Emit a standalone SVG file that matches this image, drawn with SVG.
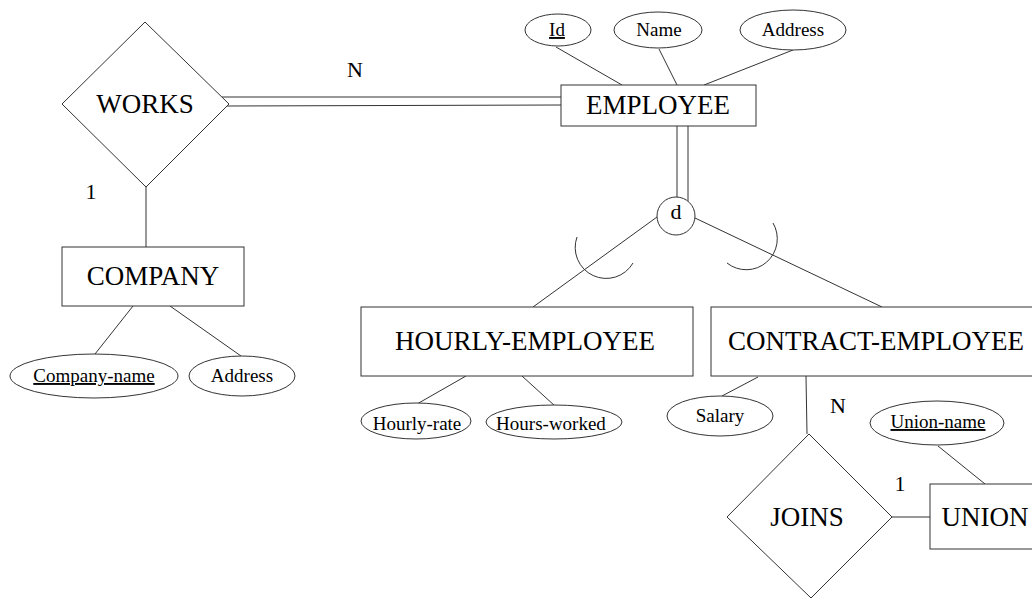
<svg xmlns="http://www.w3.org/2000/svg" width="1032" height="599" viewBox="0 0 1032 599">
  <style>
    .shape { fill: #ffffff; stroke: #333333; stroke-width: 1; }
    .edge { fill: none; stroke: #333333; stroke-width: 1; }
    .big { font-family: "Liberation Serif", "Times New Roman", serif; font-size: 27px; fill: #000000; text-anchor: middle; }
    .small { font-family: "Liberation Serif", "Times New Roman", serif; font-size: 19px; fill: #000000; text-anchor: middle; }
    .card { font-family: "Liberation Serif", "Times New Roman", serif; font-size: 22px; fill: #000000; text-anchor: middle; }
    .key { text-decoration: underline; }
  </style>

  <rect width="1032" height="599" fill="#ffffff"/>

  <!-- connectors -->
  <g id="connectors" class="edge">
    <!-- WORKS = EMPLOYEE (total participation) -->
    <line x1="222" y1="97" x2="561" y2="97"/>
    <line x1="227" y1="106" x2="561" y2="105"/>
    <!-- WORKS - COMPANY -->
    <line x1="146" y1="187" x2="146" y2="247"/>
    <!-- COMPANY attributes -->
    <line x1="133" y1="306" x2="95" y2="354"/>
    <line x1="170" y1="306" x2="241" y2="356"/>
    <!-- EMPLOYEE attributes -->
    <line x1="556" y1="47" x2="622" y2="85"/>
    <line x1="659" y1="49" x2="677" y2="85"/>
    <line x1="793" y1="50" x2="704" y2="85"/>
    <!-- EMPLOYEE = d (total specialization) -->
    <line x1="677" y1="126" x2="677" y2="197"/>
    <line x1="688" y1="126" x2="688" y2="201"/>
    <!-- d to subclasses -->
    <line x1="657" y1="217" x2="533" y2="307"/>
    <line x1="695" y1="218" x2="882" y2="307"/>
    <!-- subset marks -->
    <path d="M577,237 A31,31 0 0 0 633,263"/>
    <path d="M773,223 A31,31 0 0 1 727,263"/>
    <!-- HOURLY-EMPLOYEE attributes -->
    <line x1="466" y1="376" x2="417" y2="404"/>
    <line x1="522" y1="376" x2="555" y2="406"/>
    <!-- CONTRACT-EMPLOYEE attributes -->
    <line x1="758" y1="377" x2="722" y2="396"/>
    <!-- CONTRACT-EMPLOYEE - JOINS -->
    <line x1="806" y1="376" x2="807" y2="434"/>
    <!-- JOINS - UNION -->
    <line x1="892" y1="517" x2="930" y2="517"/>
    <!-- UNION attribute -->
    <line x1="938" y1="446" x2="985" y2="484"/>
  </g>

  <!-- cardinality labels -->
  <g id="cardinalities">
    <text class="card" x="355" y="77">N</text>
    <text class="card" x="91" y="199">1</text>
    <text class="card" x="838" y="413">N</text>
    <text class="card" x="900" y="491">1</text>
  </g>

  <g id="works">
    <polygon class="shape" points="145,22 229,104 146,187 62,104"/>
    <text class="big" x="145" y="113">WORKS</text>
  </g>

  <g id="company">
    <rect class="shape" x="62" y="247" width="182" height="59"/>
    <text class="big" x="153" y="285">COMPANY</text>
  </g>

  <g id="company-name">
    <ellipse class="shape" cx="94" cy="376" rx="84" ry="22"/>
    <text class="small key" x="94" y="382">Company-name</text>
  </g>

  <g id="company-address">
    <ellipse class="shape" cx="242" cy="376" rx="53" ry="20"/>
    <text class="small" x="242" y="382">Address</text>
  </g>

  <g id="employee">
    <rect class="shape" x="561" y="85" width="195" height="41"/>
    <text class="big" x="658" y="114">EMPLOYEE</text>
  </g>

  <g id="employee-id">
    <ellipse class="shape" cx="558" cy="30" rx="33" ry="16"/>
    <text class="small key" x="557" y="36">Id</text>
  </g>

  <g id="employee-name">
    <ellipse class="shape" cx="658" cy="30" rx="44" ry="18"/>
    <text class="small" x="659" y="36">Name</text>
  </g>

  <g id="employee-address">
    <ellipse class="shape" cx="793" cy="30" rx="53" ry="20"/>
    <text class="small" x="793" y="36">Address</text>
  </g>

  <g id="disjoint">
    <circle class="shape" cx="676" cy="216" r="19"/>
    <text class="card" x="676" y="219">d</text>
  </g>

  <g id="hourly-employee">
    <rect class="shape" x="361" y="307" width="332" height="69"/>
    <text class="big" x="525" y="350">HOURLY-EMPLOYEE</text>
  </g>

  <g id="hourly-rate">
    <ellipse class="shape" cx="416" cy="421" rx="55" ry="18"/>
    <text class="small" x="417" y="430">Hourly-rate</text>
  </g>

  <g id="hours-worked">
    <ellipse class="shape" cx="554" cy="422" rx="68" ry="17"/>
    <text class="small" x="551" y="430">Hours-worked</text>
  </g>

  <g id="contract-employee">
    <rect class="shape" x="711" y="307" width="330" height="69"/>
    <text class="big" x="876" y="350">CONTRACT-EMPLOYEE</text>
  </g>

  <g id="salary">
    <ellipse class="shape" cx="720" cy="416" rx="53" ry="20"/>
    <text class="small" x="720" y="422">Salary</text>
  </g>

  <g id="joins">
    <polygon class="shape" points="809,434 892,517 811,598 727,517"/>
    <text class="big" x="807" y="526">JOINS</text>
  </g>

  <g id="union">
    <rect class="shape" x="930" y="484" width="110" height="65"/>
    <text class="big" x="985" y="526">UNION</text>
  </g>

  <g id="union-name">
    <ellipse class="shape" cx="937" cy="423" rx="67" ry="22"/>
    <text class="small key" x="938" y="428">Union-name</text>
  </g>
</svg>
